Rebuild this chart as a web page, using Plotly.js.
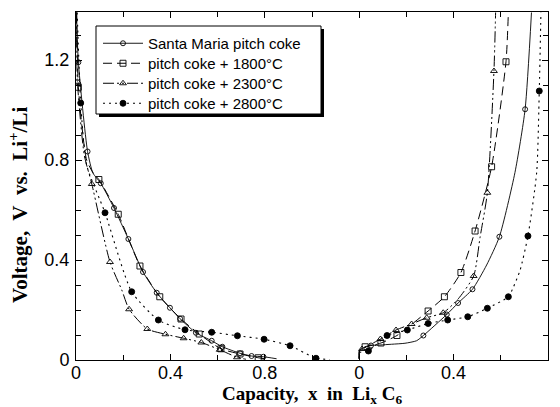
<!DOCTYPE html>
<html>
<head>
<meta charset="utf-8">
<script src="https://cdn.plot.ly/plotly-3.0.1.min.js"></script>
<style>html,body{margin:0;padding:0;background:#fff;}#chart{width:560px;height:407px;}</style>
</head>
<body>
<div id="chart"></div>
<script>
// ---------- DATA ----------
var seriesNames = ["Santa Maria pitch coke", "pitch coke + 1800°C", "pitch coke + 2300°C", "pitch coke + 2800°C"];

// Discharge (left panel): x in LixC6, voltage V
var smDisMarkX = [0.010,0.049,0.105,0.161,0.222,0.284,0.342,0.398,0.441,0.508,0.575,0.620,0.695,0.744,0.794];
var smDisMarkV = [1.191,0.834,0.707,0.608,0.484,0.352,0.269,0.209,0.165,0.109,0.077,0.053,0.027,0.016,0.013];
var smDisLineX = [0.002,0.010,0.049,0.071,0.088,0.105,0.161,0.222,0.284,0.342,0.398,0.441,0.508,0.575,0.620,0.695,0.744,0.794,0.850];
var smDisLineV = [1.390,1.191,0.834,0.749,0.727,0.707,0.608,0.484,0.352,0.269,0.209,0.165,0.109,0.077,0.053,0.027,0.016,0.013,0.005];

var c18DisMarkX = [0.010,0.097,0.179,0.271,0.355,0.445,0.522,0.614,0.695,0.772];
var c18DisMarkV = [1.091,0.722,0.583,0.376,0.253,0.164,0.104,0.045,0.024,0.009];
var c18DisLineX = [0.003,0.010,0.045,0.075,0.097,0.179,0.271,0.355,0.445,0.522,0.614,0.695,0.772,0.800];
var c18DisLineV = [1.390,1.091,0.800,0.745,0.722,0.583,0.376,0.253,0.164,0.104,0.045,0.024,0.009,0.005];

var c23DisMarkX = [0.006,0.067,0.144,0.225,0.302,0.379,0.456,0.531,0.609,0.682];
var c23DisMarkV = [1.113,0.704,0.392,0.203,0.124,0.103,0.087,0.070,0.041,0.011];
var c23DisLineX = [0.002,0.006,0.035,0.067,0.144,0.194,0.225,0.302,0.379,0.456,0.531,0.609,0.682,0.720];
var c23DisLineV = [1.390,1.113,0.820,0.704,0.392,0.280,0.203,0.124,0.103,0.087,0.070,0.041,0.011,0.003];

var c28DisMarkX = [0.020,0.123,0.236,0.349,0.462,0.575,0.684,0.797,0.907,1.017];
var c28DisMarkV = [1.028,0.589,0.273,0.160,0.121,0.111,0.097,0.083,0.057,0.007];
var c28DisLineX = [0.005,0.020,0.045,0.123,0.236,0.349,0.462,0.575,0.684,0.797,0.907,1.017,1.076];
var c28DisLineV = [1.390,1.028,0.780,0.589,0.273,0.160,0.121,0.111,0.097,0.083,0.057,0.007,0.002];

// Charge (right panel): x in LixC6, voltage V
var smChMarkX = [0.050,0.272,0.371,0.419,0.480,0.594,0.703];
var smChMarkV = [0.058,0.098,0.182,0.228,0.283,0.493,1.003];
var smChLineX = [0.000,0.002,0.050,0.088,0.137,0.194,0.243,0.272,0.371,0.419,0.480,0.540,0.594,0.660,0.703,0.730];
var smChLineV = [0.005,0.040,0.058,0.060,0.063,0.067,0.077,0.098,0.182,0.228,0.283,0.380,0.493,0.750,1.003,1.390];

var c18ChMarkX = [0.025,0.092,0.160,0.292,0.361,0.431,0.491,0.561,0.622];
var c18ChMarkV = [0.053,0.068,0.098,0.196,0.253,0.350,0.516,0.773,1.193];
var c18ChLineX = [0.000,0.002,0.025,0.092,0.160,0.292,0.361,0.431,0.491,0.561,0.622,0.632];
var c18ChLineV = [0.005,0.040,0.053,0.068,0.098,0.196,0.253,0.350,0.516,0.773,1.193,1.390];

var c23ChMarkX = [0.012,0.090,0.156,0.222,0.286,0.356,0.485,0.543,0.571];
var c23ChMarkV = [0.044,0.084,0.120,0.144,0.169,0.189,0.336,0.669,1.156];
var c23ChLineX = [0.000,0.002,0.012,0.090,0.156,0.222,0.286,0.356,0.420,0.485,0.512,0.543,0.571,0.578];
var c23ChLineV = [0.005,0.040,0.044,0.084,0.120,0.144,0.169,0.189,0.245,0.336,0.490,0.669,1.156,1.390];

var c28ChMarkX = [0.039,0.118,0.204,0.292,0.375,0.460,0.543,0.632,0.715,0.763];
var c28ChMarkV = [0.036,0.098,0.120,0.146,0.160,0.173,0.207,0.253,0.496,1.076];
var c28ChLineX = [0.000,0.002,0.039,0.118,0.204,0.292,0.375,0.460,0.543,0.632,0.654,0.682,0.715,0.752,0.763,0.770];
var c28ChLineV = [0.005,0.030,0.036,0.098,0.120,0.146,0.160,0.173,0.207,0.253,0.293,0.360,0.496,0.750,1.076,1.390];

// Axis ticks
var xTickVals = [0, 0.4, 0.8, 1.2, 1.6, 2.0];
var xTickText = ["0", "0.4", "0.8", "0", "0.4", "0.8"];
var yTickVals = [0, 0.4, 0.8, 1.2];
var yTickText = ["0", "0.4", "0.8", "1.2"];
var chargeOffset = 1.2; // charge panel starts at this position on the shared axis

// ---------- STYLES ----------
var styles = [
  {dash: "solid", width: 0.9, symbol: "circle-open", size: 5, color: "#000"},
  {dash: "9px,5px", width: 1, symbol: "square-open", size: 6, color: "#000"},
  {dash: "11px,3px,2px,3px,2px,3px", width: 1, symbol: "triangle-up-open", size: 6, color: "#000"},
  {dash: "2px,4px", width: 1.1, symbol: "circle", size: 6, color: "#000"}
];

function shift(arr) { return arr.map(function (v) { return v + chargeOffset; }); }

var groups = [
  [smDisLineX, smDisLineV, smDisMarkX, smDisMarkV, smChLineX, smChLineV, smChMarkX, smChMarkV],
  [c18DisLineX, c18DisLineV, c18DisMarkX, c18DisMarkV, c18ChLineX, c18ChLineV, c18ChMarkX, c18ChMarkV],
  [c23DisLineX, c23DisLineV, c23DisMarkX, c23DisMarkV, c23ChLineX, c23ChLineV, c23ChMarkX, c23ChMarkV],
  [c28DisLineX, c28DisLineV, c28DisMarkX, c28DisMarkV, c28ChLineX, c28ChLineV, c28ChMarkX, c28ChMarkV]
];

var legendIds = ["legend", "legend2", "legend3", "legend4"];

var traces = [];
groups.forEach(function (g, i) {
  var s = styles[i];
  var lineStyle = {color: s.color, width: s.width, dash: s.dash, shape: "spline", smoothing: 0.6};
  var mk = {symbol: s.symbol, size: s.size, color: s.color, line: {color: s.color, width: 0.9}};
  traces.push({x: g[0], y: g[1], mode: "lines", line: lineStyle, showlegend: false, hoverinfo: "skip"});
  traces.push({x: shift(g[4]), y: g[5], mode: "lines", line: lineStyle, showlegend: false, hoverinfo: "skip"});
  traces.push({x: g[2], y: g[3], mode: "markers", marker: mk, showlegend: false, hoverinfo: "skip"});
  traces.push({x: shift(g[6]), y: g[7], mode: "markers", marker: mk, showlegend: false, hoverinfo: "skip"});
  // legend entry (one small legend per row so the row pitch matches)
  traces.push({x: [null], y: [null], mode: "lines+markers", name: seriesNames[i], legend: legendIds[i],
    line: {color: s.color, width: s.width, dash: s.dash}, marker: mk, showlegend: true});
});

var W = 560, H = 407, L = 76, R = 12, T = 12, B = 47;
var pw = W - L - R, ph = H - T - B;
function px2x(p) { return (p - L) / pw; }
function py2y(p) { return (H - B - p) / ph; }

var tickFont = {family: "Arial, Liberation Sans, Helvetica, sans-serif", size: 18, color: "#000"};
var serif = "Times New Roman, Liberation Serif, serif";

function legendAt(top) {
  return {x: px2x(98), y: py2y(top), xanchor: "left", yanchor: "top",
    bgcolor: "rgba(0,0,0,0)", borderwidth: 0,
    font: {family: "Arial, Liberation Sans, sans-serif", size: 15, color: "#000"},
    itemwidth: 40};
}

var layout = {
  width: W, height: H,
  margin: {l: L, r: R, t: T, b: B, pad: 0},
  paper_bgcolor: "#fff", plot_bgcolor: "#fff",
  showlegend: true,
  legend: legendAt(27), legend2: legendAt(47), legend3: legendAt(67), legend4: legendAt(87),
  xaxis: {range: [0, 2.0], tickmode: "array", tickvals: xTickVals, ticktext: xTickText,
    ticks: "inside", ticklen: 6, tickwidth: 1, tickcolor: "#000",
    showline: true, linecolor: "#000", linewidth: 1, mirror: "ticks",
    showgrid: false, zeroline: false, tickfont: tickFont, ticklabelstandoff: -4,
    minor: {dtick: 0.2, tick0: 0, ticks: "inside", ticklen: 5, tickwidth: 1, tickcolor: "#000", showgrid: false},
    title: {text: "<b>Capacity,\u00a0 x\u00a0 in\u00a0 Li<sub>x</sub>\u00a0C<sub>6</sub></b>", font: {family: serif, size: 19, color: "#000"}, standoff: 3}},
  yaxis: {range: [0, 1.392], tickmode: "array", tickvals: yTickVals, ticktext: yTickText,
    ticks: "inside", ticklen: 6, tickwidth: 1, tickcolor: "#000",
    showline: true, linecolor: "#000", linewidth: 1, mirror: "ticks",
    showgrid: false, zeroline: false, tickfont: tickFont, ticklabelstandoff: 2,
    minor: {dtick: 0.1, tick0: 0, ticks: "inside", ticklen: 5, tickwidth: 1, tickcolor: "#000", showgrid: false}},
  shapes: [
    {type: "rect", xref: "paper", yref: "paper", x0: px2x(99), x1: px2x(324), y0: py2y(117), y1: py2y(29),
      fillcolor: "#000", line: {width: 0}, layer: "above"},
    {type: "rect", xref: "paper", yref: "paper", x0: px2x(96), x1: px2x(321), y0: py2y(114), y1: py2y(26),
      fillcolor: "#fff", line: {color: "#000", width: 1}, layer: "above"}
  ],
  annotations: [
    {text: "<b>Voltage,\u00a0 V\u00a0 vs.\u00a0 Li<sup>+</sup>/Li</b>", xref: "paper", yref: "paper",
      x: px2x(18), y: py2y(205), xanchor: "center", yanchor: "middle", textangle: -90, showarrow: false,
      font: {family: serif, size: 21, color: "#000"}}
  ]
};

Plotly.newPlot("chart", traces, layout, {staticPlot: true, displayModeBar: false});
</script>
</body>
</html>
